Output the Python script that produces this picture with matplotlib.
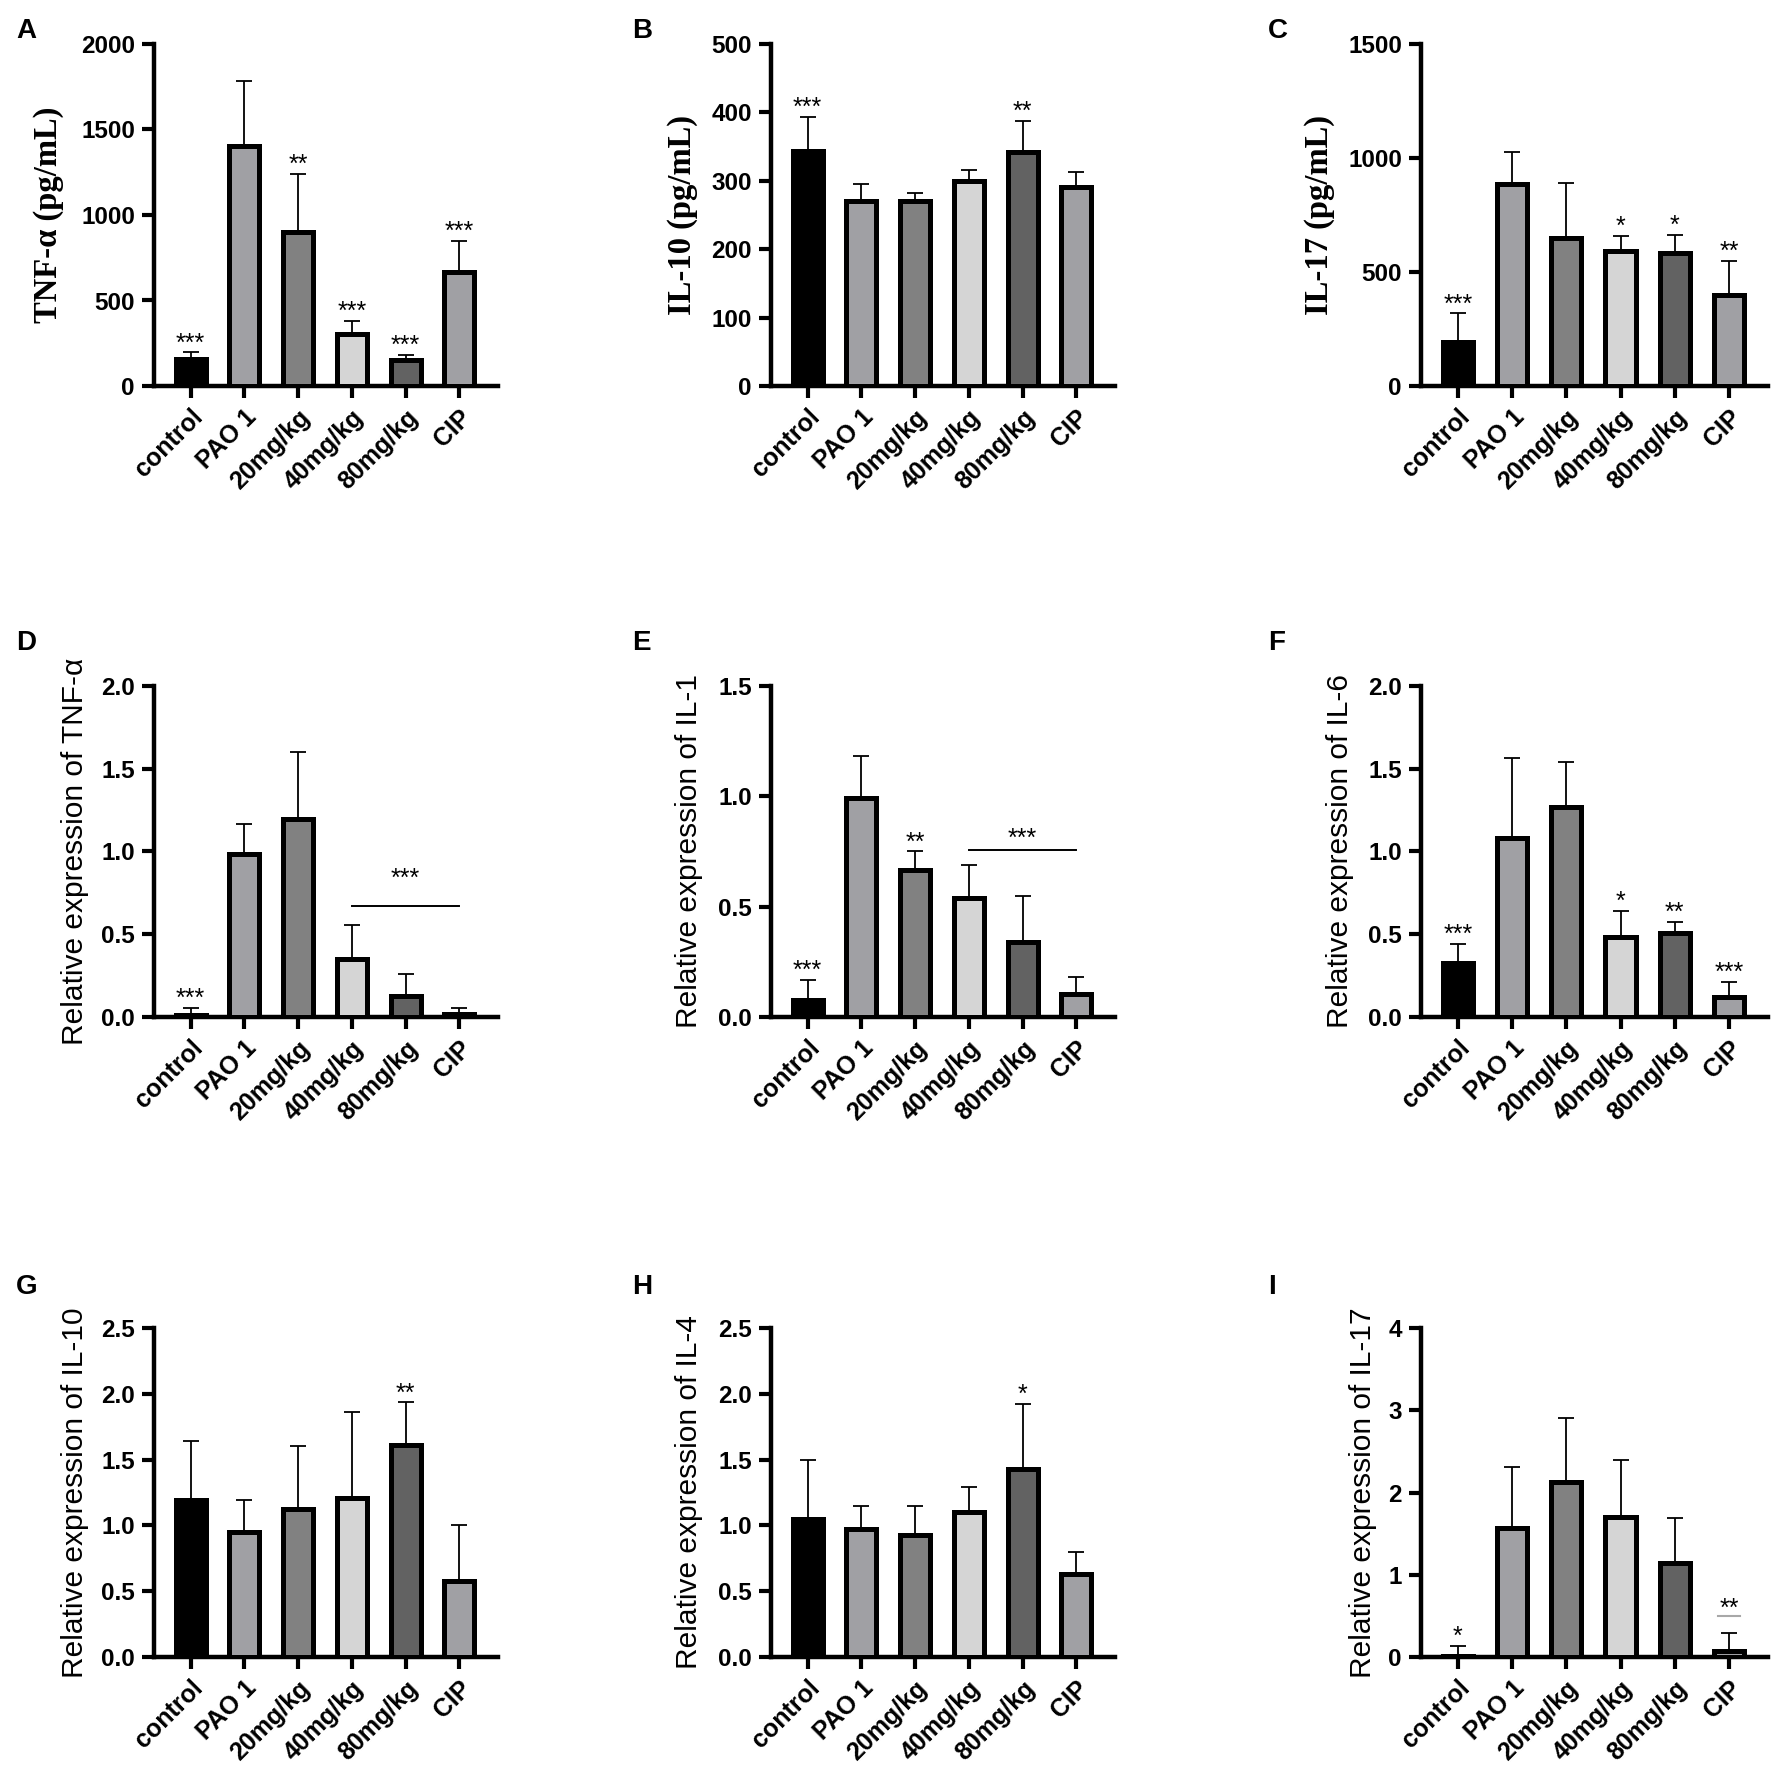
import matplotlib
matplotlib.use("Agg")
import matplotlib.pyplot as plt
import numpy as np

groups = ["control", "PAO 1", "20mg/kg", "40mg/kg", "80mg/kg", "CIP"]
bar_colors = ["#000000", "#a0a0a4", "#818181", "#d5d5d5", "#626262", "#a0a0a4"]

# serum cytokines (ELISA)
tnf_serum = [155, 1402, 901, 306, 153, 668]
tnf_serum_err = [41, 383, 340, 76, 27, 179]
tnf_serum_sig = ["***", "", "**", "***", "***", "***"]

il10_serum = [344, 271, 271, 299, 342, 291]
il10_serum_err = [49, 24, 11, 17, 46, 22]
il10_serum_sig = ["***", "", "", "", "**", ""]

il17_serum = [193, 886, 648, 591, 582, 398]
il17_serum_err = [125, 142, 244, 68, 80, 150]
il17_serum_sig = ["***", "", "", "*", "*", "**"]

# relative mRNA expression
tnf_rel = [0.013, 0.987, 1.194, 0.351, 0.126, 0.019]
tnf_rel_err = [0.041, 0.18, 0.405, 0.204, 0.136, 0.033]
tnf_rel_sig = ["***", "", "", "", "", ""]

il1_rel = [0.075, 0.994, 0.664, 0.538, 0.339, 0.105]
il1_rel_err = [0.094, 0.19, 0.086, 0.149, 0.21, 0.076]
il1_rel_sig = ["***", "", "**", "", "", ""]

il6_rel = [0.327, 1.082, 1.271, 0.486, 0.506, 0.12]
il6_rel_err = [0.116, 0.481, 0.268, 0.156, 0.069, 0.089]
il6_rel_sig = ["***", "", "", "*", "**", "***"]

il10_rel = [1.194, 0.952, 1.124, 1.212, 1.611, 0.575]
il10_rel_err = [0.447, 0.239, 0.481, 0.646, 0.323, 0.429]
il10_rel_sig = ["", "", "", "", "**", ""]

il4_rel = [1.048, 0.972, 0.926, 1.103, 1.432, 0.631]
il4_rel_err = [0.446, 0.173, 0.219, 0.191, 0.494, 0.17]
il4_rel_sig = ["", "", "", "", "*", ""]

il17_rel = [0.01, 1.565, 2.132, 1.707, 1.14, 0.079]
il17_rel_err = [0.12, 0.743, 0.779, 0.69, 0.556, 0.211]
il17_rel_sig = ["*", "", "", "", "", ""]

# (letter, ylabel, serif label?, values, errors, stars, ymax, ystep, label x)
panels = [
    ("A", "TNF-α (pg/mL)", True, tnf_serum, tnf_serum_err, tnf_serum_sig, 2000, 500, -0.262),
    ("B", "IL-10 (pg/mL)", True, il10_serum, il10_serum_err, il10_serum_sig, 500, 100, -0.212),
    ("C", "IL-17 (pg/mL)", True, il17_serum, il17_serum_err, il17_serum_sig, 1500, 500, -0.248),
    ("D", "Relative expression of TNF-α", False, tnf_rel, tnf_rel_err, tnf_rel_sig, 2.0, 0.5, -0.19),
    ("E", "Relative expression of IL-1", False, il1_rel, il1_rel_err, il1_rel_sig, 1.5, 0.5, -0.198),
    ("F", "Relative expression of IL-6", False, il6_rel, il6_rel_err, il6_rel_sig, 2.0, 0.5, -0.193),
    ("G", "Relative expression of IL-10", False, il10_rel, il10_rel_err, il10_rel_sig, 2.5, 0.5, -0.19),
    ("H", "Relative expression of IL-4", False, il4_rel, il4_rel_err, il4_rel_sig, 2.5, 0.5, -0.198),
    ("I", "Relative expression of IL-17", False, il17_rel, il17_rel_err, il17_rel_sig, 4, 1, -0.128),
]

# group brackets: panel index, from group, to group, line y, star baseline y
brackets = [
    (3, 3, 5, 0.668, 0.795),
    (4, 3, 5, 0.758, 0.776),
]

plt.rcParams["font.family"] = ["Liberation Sans", "DejaVu Sans"]

fig = plt.figure(figsize=(17.75, 17.92), dpi=100)
W, H = 1775, 1792
col_left = [154, 771, 1421]
col_w = [344, 344, 347]
row_top = [44, 686, 1328]
row_zero = [386, 1017, 1657]
letter_x = [16, 632, 1268]
letter_y = [18, 630, 1274]

axes = []
for k, (letter, ylabel, serif, vals, errs, sig, ymax, ystep, lx) in enumerate(panels):
    r, c = divmod(k, 3)
    ax = fig.add_axes([col_left[c] / W, 1 - row_zero[r] / H,
                       col_w[c] / W, (row_zero[r] - row_top[r]) / H])
    axes.append(ax)
    x = np.arange(len(groups))
    ax.errorbar(x, vals, yerr=[np.zeros(len(vals)), errs], fmt="none",
                ecolor="black", elinewidth=1.3, capsize=6, capthick=1.3, zorder=2)
    ax.bar(x, vals, width=0.56, color=bar_colors, edgecolor="black",
           linewidth=3.6, zorder=3)
    for i, s in enumerate(sig):
        if s:
            ax.annotate(s, (x[i], vals[i] + errs[i]), xytext=(0, 1.5),
                        textcoords="offset points", ha="center", va="baseline",
                        fontsize=18)

    ax.set_xlim(-0.68, 5.72)
    ax.set_ylim(0, ymax)
    ticks = np.arange(0, ymax + ystep / 2, ystep)
    ax.set_yticks(ticks)
    if ystep >= 1:
        ax.set_yticklabels([f"{t:.0f}" for t in ticks])
    else:
        ax.set_yticklabels([f"{t:.1f}" for t in ticks])
    ax.set_xticks(x)
    ax.set_xticklabels(groups, rotation=45, ha="right", va="top",
                       rotation_mode="anchor")
    for lab in ax.get_xticklabels():
        lab.set_fontweight("bold")
        lab.set_fontsize(18)
    for lab in ax.get_yticklabels():
        lab.set_fontweight("bold")
        lab.set_fontsize(17.5)
    ax.tick_params(axis="both", direction="out", length=8.7, width=3, pad=5)

    for side in ("top", "right"):
        ax.spines[side].set_visible(False)
    for side in ("left", "bottom"):
        ax.spines[side].set_linewidth(3.2)

    if serif:
        ax.set_ylabel(ylabel, fontsize=23.5, fontweight="bold",
                      family=["Liberation Serif", "DejaVu Serif"])
    else:
        ax.set_ylabel(ylabel, fontsize=21.5)
    ax.yaxis.set_label_coords(lx, 0.5)

    fig.text(letter_x[c] / W, 1 - letter_y[r] / H, letter, fontsize=20,
             fontweight="bold", ha="left", va="top")

for k, g0, g1, ly, sy in brackets:
    ax = axes[k]
    ax.plot([g0, g1], [ly, ly], color="black", lw=1.4, zorder=4)
    ax.text((g0 + g1) / 2, sy, "***", ha="center", va="baseline", fontsize=18)

# IL-17 mRNA: short grey line above CIP
ax = axes[8]
ax.plot([4.8, 5.2], [0.494, 0.494], color="#a8a8a8", lw=1.5, zorder=4)
ax.text(5, 0.506, "**", ha="center", va="baseline", fontsize=18)

fig.savefig("out.png", dpi=100)
